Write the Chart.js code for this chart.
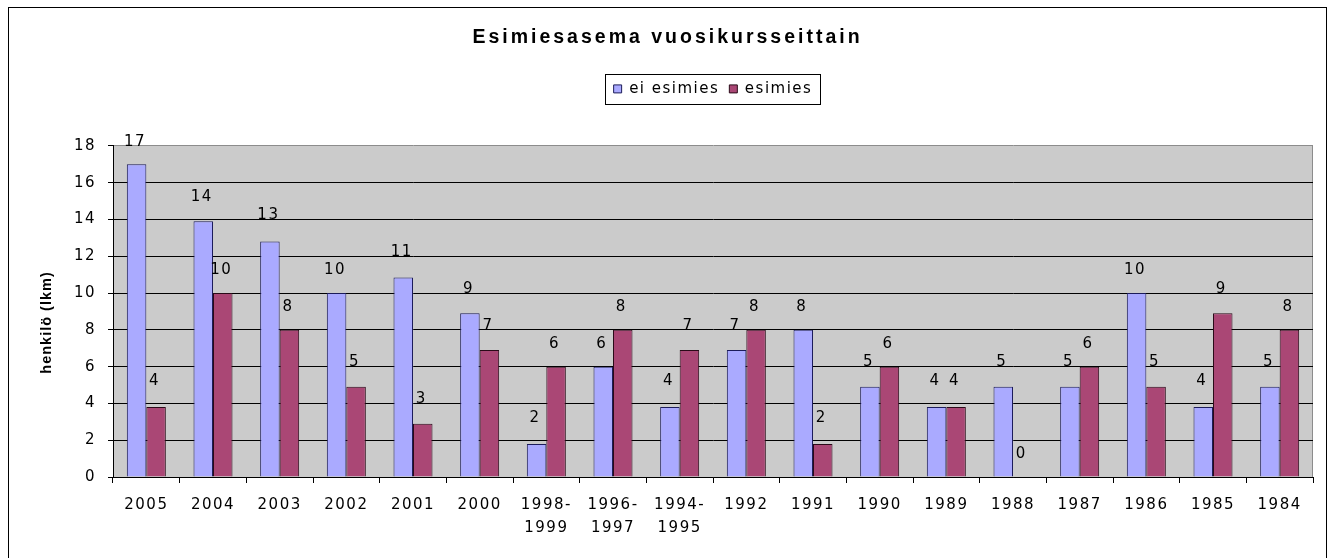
<!DOCTYPE html>
<html>
<head>
<meta charset="utf-8">
<script src="https://cdn.jsdelivr.net/npm/chart.js@4.4.1/dist/chart.umd.min.js"></script>
<style>
  html, body { margin: 0; padding: 0; background: #ffffff; }
  #wrap { width: 1329px; height: 558px; position: relative; }
</style>
</head>
<body>
<div id="wrap"><canvas id="chart"></canvas></div>
<script>
const categories = ['2005', '2004', '2003', '2002', '2001', '2000', '1998-1999', '1996-1997', '1994-1995',
    '1992', '1991', '1990', '1989', '1988', '1987', '1986', '1985', '1984'];
// bar heights as drawn (labels show the rounded count)
const eiEsimies = [17, 13.9, 12.8, 10, 10.85, 8.9, 1.8, 6, 3.8, 6.9, 8, 4.9, 3.8, 4.9, 4.9, 10, 3.8, 4.9];
const esimies = [3.8, 10, 8, 4.9, 2.9, 6.9, 6, 8, 6.9, 8, 1.8, 6, 3.8, 0, 6, 4.9, 8.9, 8];
const yMax = 18;
const yStep = 2;

const FONT = '"DejaVu Sans", Verdana, sans-serif';
const TITLE_FONT = 'Arial, "Liberation Sans", sans-serif';
const SPACING = '1.5px';
const TITLE_SPACING = '3px';

const setSpacing = chart => { chart.ctx.letterSpacing = SPACING; };

// gray plot area, outer frame, legend frame and rotated axis title
const decor = {
    id: 'decor',
    beforeInit(chart) {
        const fit = chart.legend.fit;
        chart.legend.fit = function () {
            fit.bind(chart.legend)();
            this.height += 39.5;
        };
    },
    afterInit(chart) {
        const tb = chart.titleBlock;
        const draw = tb.draw.bind(tb);
        tb.draw = () => {
            chart.ctx.letterSpacing = TITLE_SPACING;
            draw();
            chart.ctx.letterSpacing = SPACING;
        };
    },
    beforeUpdate: setSpacing,
    beforeDraw(chart) {
        const { ctx, chartArea: a } = chart;
        setSpacing(chart);
        ctx.save();
        ctx.fillStyle = '#ffffff';
        ctx.fillRect(0, 0, chart.width, chart.height);
        ctx.strokeStyle = '#000000';
        ctx.lineWidth = 1;
        ctx.strokeRect(8.5, 7.5, 1318, 570);
        ctx.fillStyle = '#cbcbcb';
        ctx.fillRect(a.left, a.top, a.right - a.left, a.bottom - a.top);
        ctx.strokeStyle = '#8c8c8c';
        ctx.beginPath();
        ctx.moveTo(a.right - 0.5, a.top);
        ctx.lineTo(a.right - 0.5, a.bottom);
        ctx.stroke();
        ctx.restore();
    },
    afterDraw(chart) {
        const { ctx } = chart;
        const hb = chart.legend.legendHitBoxes;
        if (hb && hb.length) {
            const last = hb[hb.length - 1];
            const left = Math.round(hb[0].left - 9) + 0.5;
            const right = Math.round(last.left + last.width + 8) + 0.5;
            const top = Math.round(hb[0].top - 7) + 0.5;
            const bottom = Math.round(hb[0].top + 23) + 0.5;
            ctx.save();
            ctx.strokeStyle = '#000000';
            ctx.lineWidth = 1;
            ctx.strokeRect(left, top, right - left, bottom - top);
            ctx.restore();
        }
        const ys = chart.scales.y;
        ctx.save();
        ctx.letterSpacing = '1px';
        ctx.translate(ys.left + 25, (ys.top + ys.bottom) / 2 + 11);
        ctx.rotate(-Math.PI / 2);
        ctx.font = 'bold 14.5px ' + TITLE_FONT;
        ctx.fillStyle = '#000000';
        ctx.textAlign = 'center';
        ctx.textBaseline = 'middle';
        ctx.fillText('henkilö (lkm)', 0, 0);
        ctx.restore();
    }
};

const valueLabels = {
    id: 'valueLabels',
    afterDatasetsDraw(chart) {
        const { ctx } = chart;
        const y = chart.scales.y;
        ctx.save();
        ctx.font = '15px ' + FONT;
        ctx.fillStyle = '#000000';
        ctx.textAlign = 'center';
        ctx.textBaseline = 'middle';
        chart.data.datasets.forEach((ds, i) => {
            chart.getDatasetMeta(i).data.forEach((bar, j) => {
                const v = Math.round(ds.data[j]);
                ctx.fillText(String(v), bar.x - 1.5, y.getPixelForValue(v) - 22.5);
            });
        });
        ctx.restore();
    }
};

new Chart(document.getElementById('chart'), {
    type: 'bar',
    data: {
        labels: categories.map(c => c.includes('-') ? [c.split('-')[0] + '-', c.split('-')[1]] : c),
        datasets: [
            {
                label: 'ei esimies',
                data: eiEsimies,
                backgroundColor: '#aaaaff',
                borderColor: '#1c1c5a',
                borderWidth: 1,
                categoryPercentage: 0.585,
                barPercentage: 1
            },
            {
                label: 'esimies',
                data: esimies,
                backgroundColor: '#aa4775',
                borderColor: '#2a0a18',
                borderWidth: 1,
                categoryPercentage: 0.585,
                barPercentage: 1
            }
        ]
    },
    options: {
        responsive: true,
        maintainAspectRatio: false,
        animation: false,
        layout: { padding: { left: 22, right: 16, top: 0, bottom: 0 } },
        plugins: {
            tooltip: { enabled: false },
            title: {
                display: true,
                text: 'Esimiesasema vuosikursseittain',
                color: '#000000',
                font: { family: TITLE_FONT, size: 19.5, weight: 'bold', lineHeight: 1.2 },
                padding: { top: 26, bottom: 22 }
            },
            legend: {
                display: true,
                position: 'top',
                fullSize: false,
                labels: {
                    color: '#000000',
                    boxWidth: 8,
                    boxHeight: 8,
                    padding: 10,
                    font: { family: FONT, size: 15 }
                }
            }
        },
        scales: {
            x: {
                grid: { display: true, drawOnChartArea: false, color: '#000000', tickLength: 6, offset: true },
                border: { color: '#000000' },
                ticks: {
                    color: '#000000',
                    font: { family: FONT, size: 15, lineHeight: 1.55 },
                    padding: 10.5,
                    maxRotation: 0,
                    autoSkip: false
                },
                afterFit: s => { s.height = 81; }
            },
            y: {
                min: 0,
                max: yMax,
                ticks: { stepSize: yStep, color: '#000000', font: { family: FONT, size: 15 }, padding: 12 },
                grid: {
                    color: c => (c.tick && c.tick.value === yMax ? '#8c8c8c' : '#000000'),
                    tickColor: '#000000',
                    tickLength: 5
                },
                border: { color: '#000000' },
                afterFit: s => { s.width = 91; }
            }
        }
    },
    plugins: [decor, valueLabels]
});
</script>
</body>
</html>
